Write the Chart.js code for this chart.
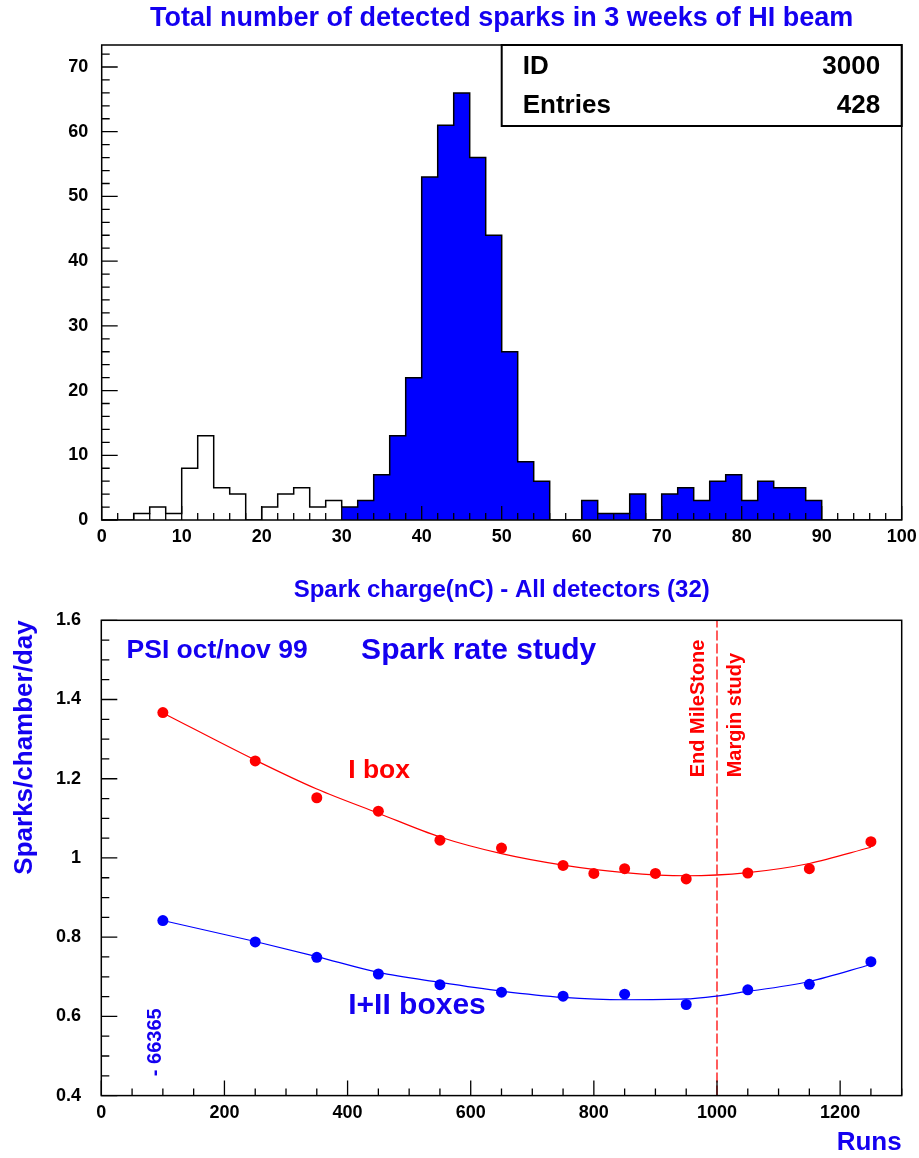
<!DOCTYPE html>
<html>
<head>
<meta charset="utf-8">
<title>Spark rate study</title>
<script src="https://cdn.jsdelivr.net/npm/chart.js@4.4.1/dist/chart.umd.min.js"></script>
<style>
  html, body { margin: 0; padding: 0; background: #fff; }
  #page { position: relative; width: 919px; height: 1158px; }
  canvas { position: absolute; left: 0; }
  #sparkHisto { top: 0; }
  #rateChart { top: 580px; }
</style>
</head>
<body>
<div id="page">
  <canvas id="sparkHisto" width="919" height="610"></canvas>
  <canvas id="rateChart" width="919" height="578"></canvas>
</div>
<script>
"use strict";

// spark charge histogram (2 nC bins, low edges)
var binWidth = 2;
var binLow = [0, 2, 4, 6, 8, 10, 12, 14, 16, 18,
  20, 22, 24, 26, 28, 30, 32, 34, 36, 38,
  40, 42, 44, 46, 48, 50, 52, 54, 56, 58,
  60, 62, 64, 66, 68, 70, 72, 74, 76, 78,
  80, 82, 84, 86, 88, 90, 92, 94, 96, 98];
var sparkCount = [0, 0, 1, 2, 1, 8, 13, 5, 4, 0,
  2, 4, 5, 2, 3, 2, 3, 7, 13, 22,
  53, 61, 66, 56, 44, 26, 9, 6, 0, 0,
  3, 1, 1, 4, 0, 4, 5, 3, 6, 7,
  3, 6, 5, 5, 3, 0, 0, 0, 0, 0];
var selLow = 30;
var selHigh = 90;
var chargeTicks = [0, 10, 20, 30, 40, 50, 60, 70, 80, 90, 100];
var countTicks = [0, 10, 20, 30, 40, 50, 60, 70];
var histId = "3000";
var histEntries = "428";

// spark rate per run
var runsOneBox = [100, 250, 350, 450, 550, 650, 750, 800, 850, 900, 950, 1050, 1150, 1250];
var rateOneBox = [1.367, 1.245, 1.152, 1.118, 1.045, 1.025, 0.981, 0.961, 0.973, 0.961, 0.947, 0.962, 0.973, 1.041];
var runsTwoBoxes = [100, 250, 350, 450, 550, 650, 750, 850, 950, 1050, 1150, 1250];
var rateTwoBoxes = [0.842, 0.788, 0.749, 0.707, 0.680, 0.661, 0.651, 0.656, 0.630, 0.667, 0.681, 0.738];

// fitted curves
var fitRuns = [100, 250, 350, 450, 550, 650, 750, 850, 950, 1050, 1150, 1250];
var fitOneBox = [1.366, 1.247, 1.174, 1.113, 1.053, 1.011, 0.982, 0.963, 0.955, 0.963, 0.986, 1.027];
var fitTwoBoxes = [0.842, 0.789, 0.751, 0.711, 0.686, 0.664, 0.648, 0.642, 0.644, 0.663, 0.688, 0.731];

var runTicks = [0, 200, 400, 600, 800, 1000, 1200];
var rateTicks = [0.4, 0.6, 0.8, 1.0, 1.2, 1.4, 1.6];
var milestoneRun = 1000;

var BLUE = "#0000ff";
var TEXT_BLUE = "#1400f0";
var RED = "#ff0000";
var FONT = '"Liberation Sans", Arial, Helvetica, sans-serif';

Chart.defaults.font.family = FONT;
Chart.defaults.font.weight = "bold";
Chart.defaults.color = "#000";

function boldFont(size) {
  return "bold " + size + "px " + FONT;
}

function putText(ctx, text, x, y, size, color, align, rotate) {
  ctx.save();
  ctx.font = boldFont(size);
  ctx.fillStyle = color;
  ctx.textAlign = align || "left";
  ctx.textBaseline = "middle";
  ctx.translate(x, y);
  if (rotate) ctx.rotate(-Math.PI / 2);
  ctx.fillText(text, 0, 0);
  ctx.restore();
}

// ticks pointing into the frame, as in the old paw plots
function innerTicks(ctx, scale, area, from, to, step, majorEvery, minorLen, majorLen) {
  var n = Math.round((to - from) / step);
  ctx.beginPath();
  for (var i = 0; i <= n; i++) {
    var p = scale.getPixelForValue(from + i * step);
    var len = i % majorEvery === 0 ? majorLen : minorLen;
    if (scale.isHorizontal()) {
      ctx.moveTo(p, area.bottom);
      ctx.lineTo(p, area.bottom - len);
    } else {
      ctx.moveTo(area.left, p);
      ctx.lineTo(area.left + len, p);
    }
  }
  ctx.stroke();
}

function drawFrame(ctx, area) {
  ctx.save();
  ctx.strokeStyle = "#000";
  ctx.lineWidth = 1.5;
  ctx.strokeRect(area.left, area.top, area.right - area.left, area.bottom - area.top);
  ctx.restore();
}

function fixWidth(w) {
  return function (scale) {
    scale.width = w;
    scale.paddingTop = 0;
    scale.paddingBottom = 0;
  };
}

function fixHeight(h) {
  return function (scale) {
    scale.height = h;
    scale.paddingLeft = 0;
    scale.paddingRight = 0;
  };
}

function useTicks(values) {
  return function (scale) {
    scale.ticks = values.map(function (v) {
      return { value: v };
    });
  };
}

function plainNumber(v) {
  return String(+Number(v).toFixed(2));
}

var noGrid = { display: false, drawTicks: false, drawOnChartArea: false };

/* ---------- histogram ---------- */

var outline = binLow.map(function (x, i) {
  return { x: x, y: sparkCount[i] };
});
outline.push({ x: binLow[binLow.length - 1] + binWidth, y: 0 });

var selected = [];
binLow.forEach(function (x, i) {
  if (x >= selLow && x < selHigh) selected.push({ x: x, y: sparkCount[i] });
});
selected.push({ x: selHigh, y: 0 });

var histoDecor = {
  id: "histoDecor",
  afterDraw: function (chart) {
    var ctx = chart.ctx;
    var a = chart.chartArea;
    var sx = chart.scales.x;
    var sy = chart.scales.y;

    ctx.save();
    ctx.strokeStyle = "#000";
    ctx.lineWidth = 1.3;
    innerTicks(ctx, sx, a, 0, 100, 2, 5, 7, 14);
    innerTicks(ctx, sy, a, 0, 72, 2, 5, 8, 16);
    ctx.restore();
    drawFrame(ctx, a);

    putText(ctx, "Total number of detected sparks in 3 weeks of HI beam",
      (a.left + a.right) / 2, 18.6, 27, TEXT_BLUE, "center");

    // stats box
    var bx = (a.left + a.right) / 2;
    var by = a.top;
    var bw = a.right - bx;
    var bh = 81;
    ctx.save();
    ctx.fillStyle = "#fff";
    ctx.fillRect(bx, by, bw, bh);
    ctx.strokeStyle = "#000";
    ctx.lineWidth = 2;
    ctx.strokeRect(bx, by, bw, bh);
    ctx.restore();
    putText(ctx, "ID", bx + 21, by + 22, 26, "#000", "left");
    putText(ctx, histId, a.right - 21.5, by + 22, 26, "#000", "right");
    putText(ctx, "Entries", bx + 21, by + 61, 26, "#000", "left");
    putText(ctx, histEntries, a.right - 21.5, by + 61, 26, "#000", "right");
  },
};

new Chart(document.getElementById("sparkHisto"), {
  type: "line",
  data: {
    datasets: [
      {
        data: outline,
        stepped: true,
        borderColor: "#000",
        borderWidth: 1.5,
        pointRadius: 0,
        fill: false,
      },
      {
        data: selected,
        stepped: true,
        borderColor: "rgba(0,0,0,0)",
        borderWidth: 0,
        backgroundColor: BLUE,
        pointRadius: 0,
        fill: "origin",
      },
    ],
  },
  options: {
    responsive: false,
    animation: false,
    events: [],
    layout: { padding: { left: 0, right: 17.3, top: 45, bottom: 0 } },
    plugins: {
      legend: { display: false },
      tooltip: { enabled: false },
      title: { display: false },
    },
    scales: {
      x: {
        type: "linear",
        min: 0,
        max: 100,
        grid: noGrid,
        border: { display: false },
        afterBuildTicks: useTicks(chargeTicks),
        afterFit: fixHeight(90),
        ticks: { padding: 6.2, color: "#000", font: { size: 18, weight: "bold" }, maxRotation: 0, callback: plainNumber },
        title: {
          display: true,
          text: "Spark charge(nC) - All detectors (32)",
          color: TEXT_BLUE,
          font: { size: 24, weight: "bold" },
          padding: { top: 0, bottom: 5.6 },
        },
      },
      y: {
        type: "linear",
        min: 0,
        max: 73.4,
        grid: noGrid,
        border: { display: false },
        afterBuildTicks: useTicks(countTicks),
        afterFit: fixWidth(101.7),
        ticks: { padding: 13.5, color: "#000", font: { size: 18, weight: "bold" }, callback: plainNumber },
      },
    },
  },
  plugins: [histoDecor],
});

/* ---------- spark rate vs runs ---------- */

function pairs(xs, ys) {
  return xs.map(function (x, i) {
    return { x: x, y: ys[i] };
  });
}

var rateDecor = {
  id: "rateDecor",
  afterDraw: function (chart) {
    var ctx = chart.ctx;
    var a = chart.chartArea;
    var sx = chart.scales.x;
    var sy = chart.scales.y;

    ctx.save();
    ctx.strokeStyle = "#000";
    ctx.lineWidth = 1.3;
    innerTicks(ctx, sx, a, 0, 1300, 50, 4, 7, 15);
    innerTicks(ctx, sy, a, 0.4, 1.6, 0.05, 4, 8, 16);
    ctx.restore();
    drawFrame(ctx, a);

    var notes = [
      { text: "PSI oct/nov 99", run: 41, rate: 1.524, size: 26.5, color: TEXT_BLUE },
      { text: "Spark rate study", run: 422, rate: 1.524, size: 30, color: TEXT_BLUE },
      { text: "I box", run: 401, rate: 1.221, size: 26.5, color: RED },
      { text: "I+II boxes", run: 401, rate: 0.628, size: 30, color: TEXT_BLUE },
      { text: "- 66365", run: 88.4, rate: 0.449, size: 20, color: TEXT_BLUE, rotate: true },
      { text: "End MileStone", run: 970, rate: 1.2035, size: 20, color: RED, rotate: true },
      { text: "Margin study", run: 1029.6, rate: 1.2035, size: 20, color: RED, rotate: true },
    ];
    notes.forEach(function (n) {
      putText(ctx, n.text, sx.getPixelForValue(n.run), sy.getPixelForValue(n.rate),
        n.size, n.color, "left", n.rotate);
    });
  },
};

new Chart(document.getElementById("rateChart"), {
  type: "line",
  data: {
    datasets: [
      {
        data: pairs(runsOneBox, rateOneBox),
        showLine: false,
        pointRadius: 5.5,
        pointBackgroundColor: RED,
        pointBorderWidth: 0,
      },
      {
        data: pairs(runsTwoBoxes, rateTwoBoxes),
        showLine: false,
        pointRadius: 5.5,
        pointBackgroundColor: BLUE,
        pointBorderWidth: 0,
      },
      {
        data: pairs(fitRuns, fitOneBox),
        borderColor: RED,
        borderWidth: 1.2,
        pointRadius: 0,
        cubicInterpolationMode: "monotone",
        fill: false,
      },
      {
        data: pairs(fitRuns, fitTwoBoxes),
        borderColor: BLUE,
        borderWidth: 1.2,
        pointRadius: 0,
        cubicInterpolationMode: "monotone",
        fill: false,
      },
      {
        data: [
          { x: milestoneRun, y: 0.4 },
          { x: milestoneRun, y: 1.6 },
        ],
        borderColor: "rgba(255,0,0,0.85)",
        borderWidth: 1.5,
        borderDash: [10, 3],
        pointRadius: 0,
        fill: false,
      },
    ],
  },
  options: {
    responsive: false,
    animation: false,
    events: [],
    layout: { padding: { left: 0, right: 17.3, top: 40.3, bottom: 0 } },
    plugins: {
      legend: { display: false },
      tooltip: { enabled: false },
      title: { display: false },
    },
    scales: {
      x: {
        type: "linear",
        min: 0,
        max: 1300,
        grid: noGrid,
        border: { display: false },
        afterBuildTicks: useTicks(runTicks),
        afterFit: fixHeight(62.4),
        ticks: { padding: 6.6, color: "#000", font: { size: 18, weight: "bold" }, maxRotation: 0, callback: plainNumber },
        title: {
          display: true,
          text: "Runs",
          align: "end",
          color: TEXT_BLUE,
          font: { size: 26, weight: "bold", lineHeight: 1.15 },
          padding: { top: 0, bottom: 0 },
        },
      },
      y: {
        type: "linear",
        min: 0.4,
        max: 1.6,
        grid: noGrid,
        border: { display: false },
        afterBuildTicks: useTicks(rateTicks),
        afterFit: fixWidth(101.3),
        ticks: { padding: 20.3, color: "#000", font: { size: 18, weight: "bold" }, callback: plainNumber },
        title: {
          display: true,
          text: "Sparks/chamber/day",
          align: "end",
          color: TEXT_BLUE,
          font: { size: 26, weight: "bold", lineHeight: 1.2 },
          padding: { top: 9, bottom: 0 },
        },
      },
    },
  },
  plugins: [rateDecor],
});
</script>
</body>
</html>
